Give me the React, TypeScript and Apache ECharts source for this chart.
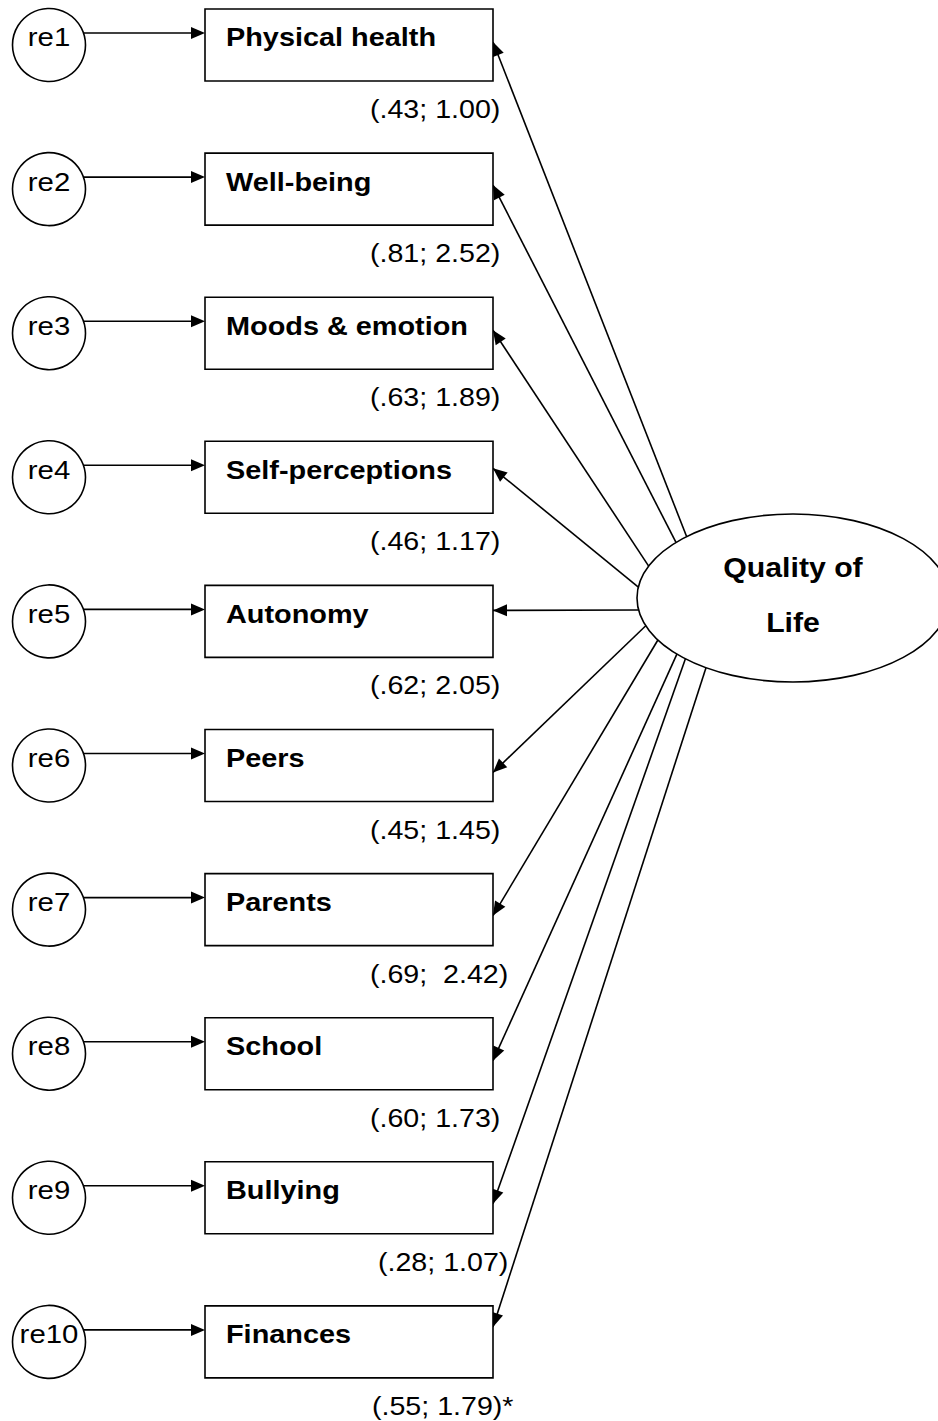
import { useEffect, useRef } from "react";
import * as echarts from "echarts";

// ---------- data ----------
const errorTerms = ["re1", "re2", "re3", "re4", "re5", "re6", "re7", "re8", "re9", "re10"];
const indicators = [
  "Physical health",
  "Well-being",
  "Moods & emotion",
  "Self-perceptions",
  "Autonomy",
  "Peers",
  "Parents",
  "School",
  "Bullying",
  "Finances",
];
const paramLabels = [
  "(.43; 1.00)",
  "(.81; 2.52)",
  "(.63; 1.89)",
  "(.46; 1.17)",
  "(.62; 2.05)",
  "(.45; 1.45)",
  "(.69;  2.42)",
  "(.60; 1.73)",
  "(.28; 1.07)",
  "(.55; 1.79)*",
];
const latentLabel = ["Quality of", "Life"];

// ---------- layout ----------
const W = 938;
const H = 1421;
const ROW_TOP0 = 9;
const ROW_PITCH = 144.1;
const BOX_X = 205;
const BOX_W = 288;
const BOX_H = 72;
const ERR_CX = 49;
const ERR_R = 36.5;
const TEXT_DY = 28.5;
const ERR_ARROW_DY = 24;
const LAT_CX = 793;
const LAT_CY = 598;
const LAT_RX = 156;
const LAT_RY = 84;
// where each loading arrow hits the box (offset from box top)
const tipOffsets = [33, 32, 33, 27, 25, 43, 42, 43, 42, 21];
// where each loading arrow leaves the latent ellipse (degrees on ellipse)
const anchorAngles = [227, 221.4, 202.3, 187.5, 171.8, 160.7, 150, 138.1, 133.6, 123.9];
const paramX = [370, 370, 370, 370, 370, 370, 370, 370, 378, 372];

const FONT = "'Liberation Sans', Arial, Helvetica, sans-serif";
const LW = 1.6;
const ARROW_L = 14;
const ARROW_W = 6;

function arrowHead(fx: number, fy: number, tx: number, ty: number) {
  const dx = tx - fx;
  const dy = ty - fy;
  const len = Math.sqrt(dx * dx + dy * dy) || 1;
  const ux = dx / len;
  const uy = dy / len;
  const bx = tx - ux * ARROW_L;
  const by = ty - uy * ARROW_L;
  const nx = -uy;
  const ny = ux;
  return [
    [tx, ty],
    [bx + nx * ARROW_W, by + ny * ARROW_W],
    [bx - nx * ARROW_W, by - ny * ARROW_W],
  ];
}

export default function App() {
  const ref = useRef<HTMLDivElement>(null);

  useEffect(() => {
    document.body.style.margin = "0";
    const chart = echarts.init(ref.current!, undefined, { renderer: "svg" });

    const renderRow = (params: any, api: any) => {
      const i = params.dataIndex;
      const c = (x: number, y: number) => api.coord([x, y]);
      const top = ROW_TOP0 + i * ROW_PITCH;

      const [x0, y0] = c(BOX_X, top);
      const [x1, y1] = c(BOX_X + BOX_W, top + BOX_H);
      const [ecx, ecy] = c(ERR_CX, top + BOX_H / 2);
      const rPx = c(ERR_CX + ERR_R, 0)[0] - ecx;

      // error -> indicator arrow
      const ay = c(0, top + ERR_ARROW_DY)[1];
      const ddy = ay - ecy;
      const ax0 = ecx + Math.sqrt(Math.max(rPx * rPx - ddy * ddy, 0));
      const errHead = arrowHead(ax0, ay, x0, ay);

      // latent -> indicator arrow
      const t = (anchorAngles[i] * Math.PI) / 180;
      const [sx, sy] = c(LAT_CX + LAT_RX * Math.cos(t), LAT_CY + LAT_RY * Math.sin(t));
      const [tx, ty] = c(BOX_X + BOX_W, top + tipOffsets[i]);
      const latHead = arrowHead(sx, sy, tx, ty);

      const textY = c(0, top + TEXT_DY)[1];
      const paramY = c(0, top + BOX_H + 28)[1];
      const [px] = c(paramX[i], 0);

      return {
        type: "group",
        children: [
          {
            type: "line",
            shape: { x1: sx, y1: sy, x2: tx, y2: ty },
            style: { stroke: "#000", lineWidth: LW },
          },
          { type: "polygon", shape: { points: latHead }, style: { fill: "#000" } },
          {
            type: "circle",
            shape: { cx: ecx, cy: ecy, r: rPx },
            style: { fill: "#fff", stroke: "#000", lineWidth: LW },
          },
          {
            type: "text",
            x: ecx,
            y: textY,
            scaleX: 1.13,
            style: {
              text: errorTerms[i],
              fill: "#000",
              fontFamily: FONT,
              fontSize: 26,
              align: "center",
              verticalAlign: "middle",
            },
          },
          {
            type: "line",
            shape: { x1: ax0, y1: ay, x2: x0 - ARROW_L + 1, y2: ay },
            style: { stroke: "#000", lineWidth: LW },
          },
          { type: "polygon", shape: { points: errHead }, style: { fill: "#000" } },
          {
            type: "rect",
            shape: { x: x0, y: y0, width: x1 - x0, height: y1 - y0 },
            style: { fill: "#fff", stroke: "#000", lineWidth: LW },
          },
          {
            type: "text",
            x: c(BOX_X + 21, 0)[0],
            y: textY,
            scaleX: 1.11,
            style: {
              text: indicators[i],
              fill: "#000",
              fontFamily: FONT,
              fontWeight: "bold",
              fontSize: 26,
              align: "left",
              verticalAlign: "middle",
            },
          },
          {
            type: "text",
            x: px,
            y: paramY,
            scaleX: 1.1,
            style: {
              text: paramLabels[i],
              fill: "#000",
              fontFamily: FONT,
              fontSize: 26,
              align: "left",
              verticalAlign: "middle",
            },
          },
        ],
      };
    };

    const renderLatent = (_params: any, api: any) => {
      const [cx, cy] = api.coord([LAT_CX, LAT_CY]);
      const rx = api.coord([LAT_CX + LAT_RX, LAT_CY])[0] - cx;
      const ry = api.coord([LAT_CX, LAT_CY + LAT_RY])[1] - cy;
      const l1 = api.coord([LAT_CX, LAT_CY - 31]);
      const l2 = api.coord([LAT_CX, LAT_CY + 24]);
      const labelStyle = {
        fill: "#000",
        fontFamily: FONT,
        fontWeight: "bold",
        fontSize: 28,
        align: "center",
        verticalAlign: "middle",
      };
      return {
        type: "group",
        children: [
          {
            type: "ellipse",
            shape: { cx, cy, rx, ry },
            style: { fill: "#fff", stroke: "#000", lineWidth: LW },
          },
          {
            type: "text",
            x: l1[0],
            y: l1[1],
            scaleX: 1.08,
            style: { ...labelStyle, text: latentLabel[0] },
          },
          {
            type: "text",
            x: l2[0],
            y: l2[1],
            scaleX: 1.08,
            style: { ...labelStyle, text: latentLabel[1] },
          },
        ],
      };
    };

    chart.setOption({
      animation: false,
      backgroundColor: "#fff",
      grid: { left: 0, right: 0, top: 0, bottom: 0 },
      xAxis: { type: "value", min: 0, max: W, show: false },
      yAxis: { type: "value", min: 0, max: H, inverse: true, show: false },
      series: [
        {
          type: "custom",
          renderItem: renderRow,
          data: indicators.map((_, i) => [i, i]),
          silent: true,
          z: 1,
        },
        {
          type: "custom",
          renderItem: renderLatent,
          data: [[LAT_CX, LAT_CY]],
          silent: true,
          z: 2,
        },
      ],
    });

    return () => chart.dispose();
  }, []);

  return <div ref={ref} style={{ width: W, height: H }} />;
}
